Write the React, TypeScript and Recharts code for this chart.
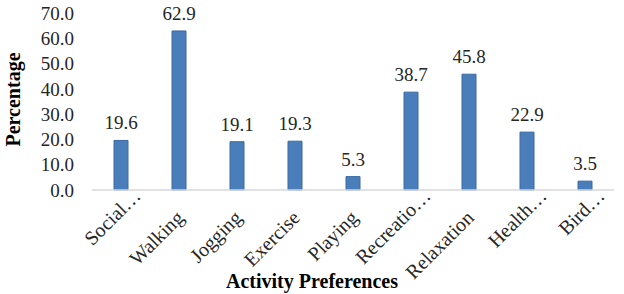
import React from "react";
import { BarChart, Bar, XAxis, YAxis, LabelList, Label } from "recharts";

const CATEGORIES = [
  "Social…",
  "Walking",
  "Jogging",
  "Exercise",
  "Playing",
  "Recreatio…",
  "Relaxation",
  "Health…",
  "Bird…",
];
const VALUES = [19.6, 62.9, 19.1, 19.3, 5.3, 38.7, 45.8, 22.9, 3.5];
const Y_TICKS = [0, 10, 20, 30, 40, 50, 60, 70];

const FONT = "'Liberation Serif', 'Times New Roman', serif";

function CategoryTick(props: any) {
  const { x, y, payload } = props;
  // truncated labels (ending in an ellipsis) sit a little higher, like Excel draws them
  const cut = String(payload.value).endsWith("…");
  const tx = cut ? x + 21 : x + 6;
  const ty = cut ? y + 7 : y + 29;
  return (
    <text
      x={tx}
      y={ty}
      transform={`rotate(-45, ${tx}, ${ty})`}
      textAnchor="end"
      fontFamily={FONT}
      fontSize={20}
      fill="#262626"
    >
      {payload.value}
    </text>
  );
}

function YTitle(props: any) {
  const vb = props.viewBox || {};
  const cx = 13;
  const cy = vb.y + vb.height / 2 - 2;
  return (
    <text
      x={cx}
      y={cy}
      transform={`rotate(-90, ${cx}, ${cy})`}
      textAnchor="middle"
      dominantBaseline="central"
      fontFamily={FONT}
      fontSize={20}
      fontWeight="bold"
      fill="#000"
    >
      Percentage
    </text>
  );
}

export default function App() {
  const data = CATEGORIES.map((name, i) => ({ name, value: VALUES[i] }));

  return (
    <div style={{ position: "relative" }}>
      <style>{"body{margin:0}"}</style>
      <BarChart
        width={624}
        height={294}
        data={data}
        margin={{ top: 13, right: 10, left: 0, bottom: 0 }}
        barCategoryGap={22}
      >
        <XAxis
          dataKey="name"
          axisLine={{ stroke: "#d9d9d9", strokeWidth: 1.5 }}
          tickLine={false}
          tickSize={0}
          tickMargin={0}
          interval={0}
          tick={<CategoryTick />}
          height={104}
        />
        <YAxis
          domain={[0, 70]}
          ticks={Y_TICKS}
          interval={0}
          tickFormatter={(v: number) => v.toFixed(1)}
          axisLine={false}
          tickLine={false}
          tickSize={0}
          tickMargin={18}
          width={92}
          tick={{ fontFamily: FONT, fontSize: 19, fill: "#262626" }}
        >
          <Label content={<YTitle />} />
        </YAxis>
        <Bar
          dataKey="value"
          fill="#4a7ebb"
          stroke="#3c6aa3"
          strokeWidth={1}
          isAnimationActive={false}
        >
          <LabelList
            dataKey="value"
            position="top"
            offset={11}
            formatter={(v: any) => Number(v).toFixed(1)}
            style={{ fontFamily: FONT, fontSize: 19, fill: "#262626" }}
          />
        </Bar>
      </BarChart>
      <div
        style={{
          position: "absolute",
          top: 270,
          left: 212,
          width: 200,
          textAlign: "center",
          fontFamily: FONT,
          fontSize: 20,
          fontWeight: "bold",
          color: "#000",
          whiteSpace: "nowrap",
        }}
      >
        Activity Preferences
      </div>
    </div>
  );
}
